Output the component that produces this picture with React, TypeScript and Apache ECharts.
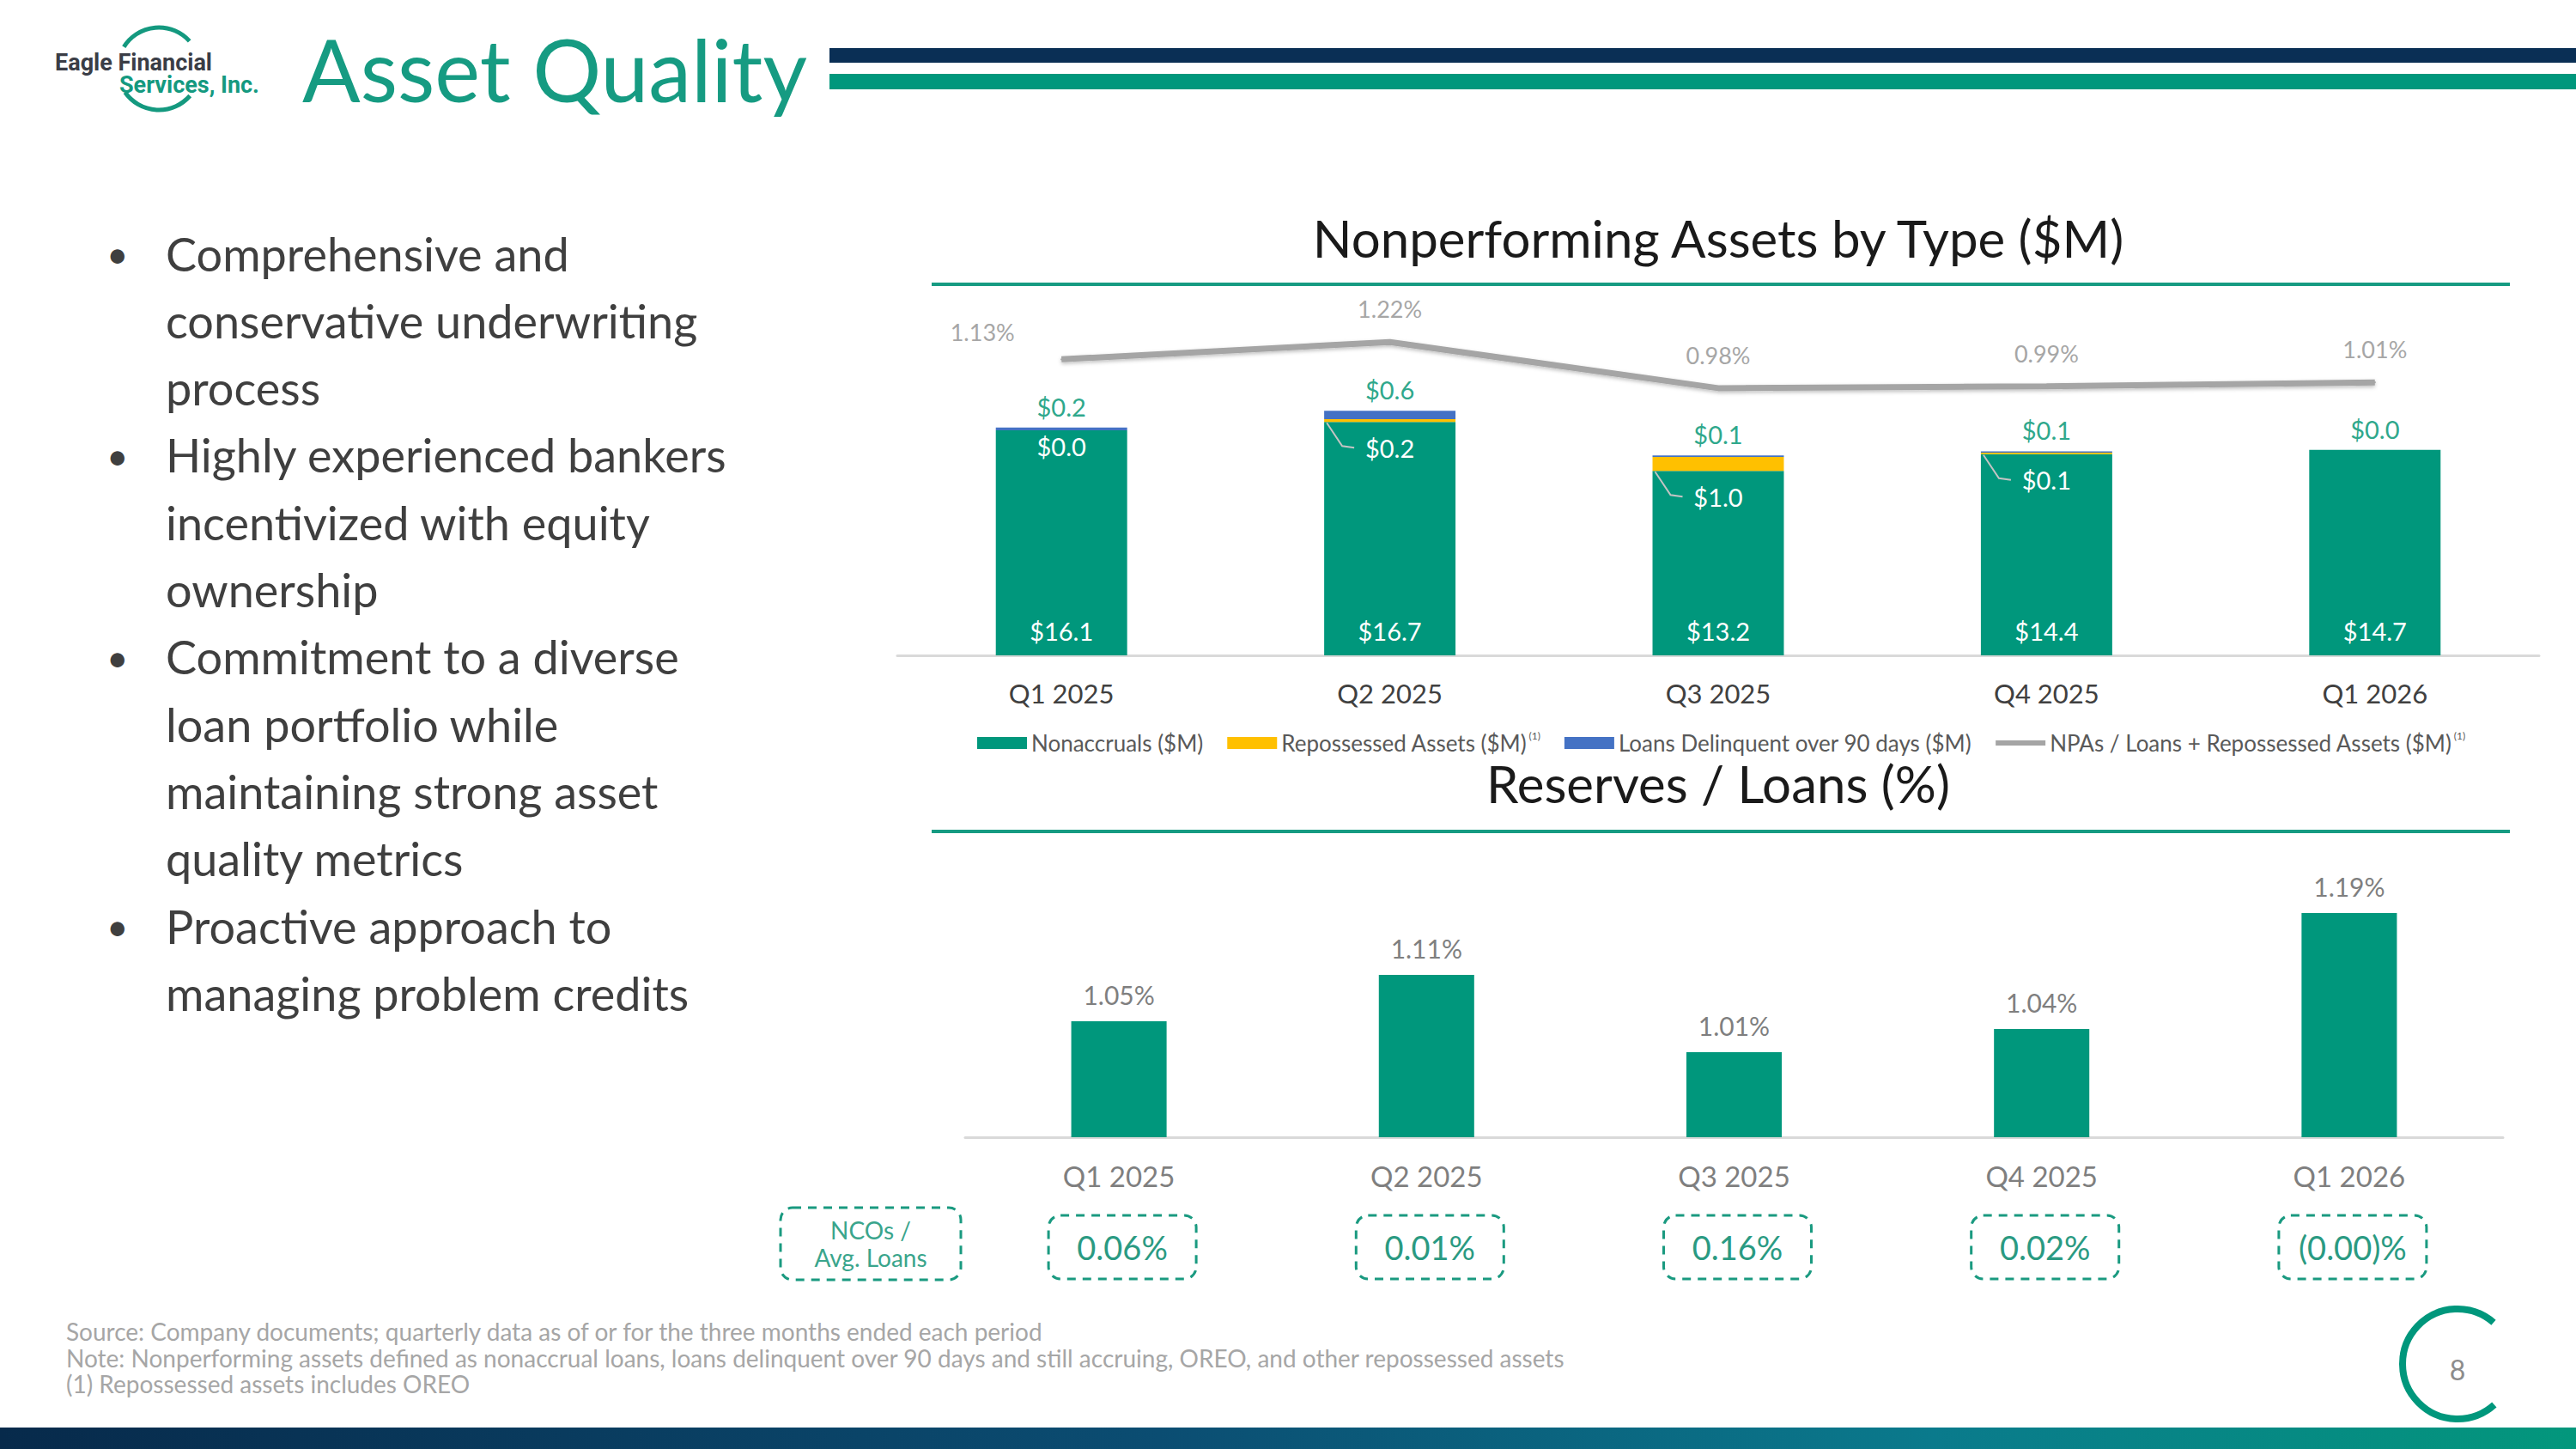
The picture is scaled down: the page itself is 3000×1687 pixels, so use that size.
import React, { useEffect, useRef } from "react";
import * as echarts from "echarts";

const categories = ["Q1 2025", "Q2 2025", "Q3 2025", "Q4 2025", "Q1 2026"];
const nonaccruals = [16.1, 16.7, 13.2, 14.4, 14.7];
const repossessed = [0.0, 0.2, 1.0, 0.1, 0.0];
const delinquent = [0.2, 0.6, 0.1, 0.1, 0.0];
const npaRatio = [1.13, 1.22, 0.98, 0.99, 1.01];
const repLabelMode = ["plain", "leader", "leader", "leader", "none"];
const reserveRatio = [1.05, 1.11, 1.01, 1.04, 1.19];
const ncoLabels = ["0.06%", "0.01%", "0.16%", "0.02%", "(0.00)%"];

const seriesNames = [
  "Nonaccruals ($M)",
  "Repossessed Assets ($M)",
  "Loans Delinquent over 90 days ($M)",
  "NPAs / Loans + Repossessed Assets ($M)",
];
const footnoted = ["Repossessed Assets ($M)", "NPAs / Loans + Repossessed Assets ($M)"];

const bullets = [
  ["Comprehensive and", "conservative underwriting", "process"],
  ["Highly experienced bankers", "incentivized with equity", "ownership"],
  ["Commitment to a diverse", "loan portfolio while", "maintaining strong asset", "quality metrics"],
  ["Proactive approach to", "managing problem credits"],
];

const footnotes = [
  "Source: Company documents; quarterly data as of or for the three months ended each period",
  "Note: Nonperforming assets defined as nonaccrual loans, loans delinquent over 90 days and still accruing, OREO, and other repossessed assets",
  "(1) Repossessed assets includes OREO",
];

const TEAL = "#00977c";
const TITLE_TEAL = "#169b82";
const YELLOW = "#ffc000";
const BLUE = "#4472c4";
const FONT = "Lato";
const BOTTOM_MIN = 0.9;
const deg = (d: number) => (d * Math.PI) / 180;

export default function App() {
  const ref = useRef<HTMLDivElement>(null);

  useEffect(() => {
    document.body.style.margin = "0";
    const chart = echarts.init(ref.current!, null, { renderer: "svg" });

    const graphic: any[] = [];
    // logo
    graphic.push(
      { type: "arc", shape: { cx: 185, cy: 80, r: 48, startAngle: deg(212), endAngle: deg(318), clockwise: true }, style: { stroke: "#14997f", lineWidth: 5, fill: null } },
      { type: "arc", shape: { cx: 185, cy: 80, r: 48, startAngle: deg(41), endAngle: deg(145), clockwise: true }, style: { stroke: "#14997f", lineWidth: 5, fill: null } },
      { type: "text", style: { text: "Eagle Financial", x: 64, y: 73, verticalAlign: "middle", font: "bold 27px Roboto", fill: "#3a3d46" } },
      { type: "text", style: { text: "Services, Inc.", x: 139, y: 99, verticalAlign: "middle", font: "bold 27px Roboto", fill: "#14997f" } },
      { type: "text", style: { text: "Asset Quality", x: 352, y: 80, verticalAlign: "middle", font: `100px ${FONT}`, fill: TITLE_TEAL } },
      { type: "rect", shape: { x: 966, y: 56, width: 2034, height: 17 }, style: { fill: "#0a2f55" } },
      { type: "rect", shape: { x: 966, y: 86, width: 2034, height: 18 }, style: { fill: TEAL } }
    );
    // chart titles
    graphic.push(
      { type: "text", style: { text: "Nonperforming Assets by Type ($M)", x: 2001, y: 277, align: "center", verticalAlign: "middle", font: `60px ${FONT}`, fill: "#1a1a1a" } },
      { type: "rect", shape: { x: 1085, y: 329, width: 1838, height: 4 }, style: { fill: TITLE_TEAL } },
      { type: "text", style: { text: "Reserves / Loans (%)", x: 2001, y: 912, align: "center", verticalAlign: "middle", font: `60px ${FONT}`, fill: "#1a1a1a" } },
      { type: "rect", shape: { x: 1085, y: 966, width: 1838, height: 4 }, style: { fill: TITLE_TEAL } }
    );
    // bullets
    let line = 0;
    bullets.forEach((b) => {
      b.forEach((t, j) => {
        const y = 295 + line * 78.3;
        if (j === 0) graphic.push({ type: "text", style: { text: "•", x: 124, y, verticalAlign: "middle", font: `44px ${FONT}`, fill: "#3f3f3f" } });
        graphic.push({ type: "text", style: { text: t, x: 193, y, verticalAlign: "middle", font: `54px ${FONT}`, fill: "#3f3f3f" } });
        line++;
      });
    });
    // NCO label box
    graphic.push(
      { type: "rect", shape: { x: 909, y: 1406, width: 210, height: 84, r: 14 }, style: { fill: "transparent", stroke: "#1a9a80", lineWidth: 3, lineDash: [10, 8] } },
      { type: "text", style: { text: "NCOs /\nAvg. Loans", x: 1014, y: 1448, align: "center", verticalAlign: "middle", font: `28px ${FONT}`, fill: "#3aa58c", lineHeight: 32 } }
    );
    // footnotes
    footnotes.forEach((t, i) => {
      graphic.push({ type: "text", style: { text: t, x: 77, y: 1550 + i * 30.5, verticalAlign: "middle", font: `28px ${FONT}`, fill: "#a6a6a6" } });
    });
    // page number
    graphic.push(
      { type: "arc", shape: { cx: 2862, cy: 1588, r: 64, startAngle: deg(48), endAngle: deg(311), clockwise: true }, style: { stroke: TEAL, lineWidth: 8, fill: null } },
      { type: "text", style: { text: "8", x: 2862, y: 1594, align: "center", verticalAlign: "middle", font: `32px ${FONT}`, fill: "#8c8c8c" } }
    );
    // bottom band
    graphic.push({
      type: "rect",
      shape: { x: 0, y: 1662, width: 3000, height: 25 },
      style: {
        fill: new echarts.graphic.LinearGradient(0, 0, 1, 0, [
          { offset: 0, color: "#072a4b" },
          { offset: 0.45, color: "#0b4d72" },
          { offset: 0.75, color: "#0a7a8c" },
          { offset: 1, color: "#03977c" },
        ]),
      },
    });

    const labelFmt = (p: any) => "$" + Number(p.value).toFixed(1);

    const option: any = {
      animation: false,
      textStyle: { fontFamily: FONT },
      graphic,
      legend: {
        data: seriesNames.map((n, i) =>
          i === 3 ? { name: n, icon: "path://M0,0H60V6H0Z" } : { name: n, icon: "rect" }
        ),
        left: 1133,
        top: 845,
        itemWidth: 58,
        itemHeight: 14,
        itemGap: 28,
        textStyle: {
          fontSize: 26,
          color: "#595959",
          rich: { sup: { fontSize: 12, color: "#595959", verticalAlign: "top", padding: [0, 0, 18, 2] } },
        },
        formatter: (n: string) => (footnoted.includes(n) ? `${n}{sup|(1)}` : n),
      },
      grid: [
        { left: 1045, width: 1912, top: 340, height: 423 },
        { left: 1124, width: 1791, top: 1009, height: 315 },
      ],
      xAxis: [
        {
          type: "category",
          gridIndex: 0,
          data: categories,
          axisLine: { lineStyle: { color: "#d9d9d9", width: 3 } },
          axisTick: { show: false },
          axisLabel: { color: "#404040", fontSize: 31, margin: 28 },
        },
        {
          type: "category",
          gridIndex: 1,
          data: categories,
          axisLine: { lineStyle: { color: "#d9d9d9", width: 3 } },
          axisTick: { show: false },
          axisLabel: { color: "#7f7f7f", fontSize: 33, margin: 28 },
        },
      ],
      yAxis: [
        { type: "value", gridIndex: 0, min: 0, max: 26, show: false, splitLine: { show: false } },
        { type: "value", gridIndex: 0, min: -0.41, max: 1.48, show: false, splitLine: { show: false } },
        { type: "value", gridIndex: 1, min: BOTTOM_MIN, max: 1.25, show: false, splitLine: { show: false } },
      ],
      series: [
        {
          name: seriesNames[0],
          type: "bar",
          stack: "npa",
          barWidth: "40%",
          xAxisIndex: 0,
          yAxisIndex: 0,
          data: nonaccruals,
          itemStyle: { color: TEAL },
          label: { show: true, position: "insideBottom", distance: 14, color: "#ffffff", fontSize: 29, formatter: labelFmt },
        },
        {
          name: seriesNames[1],
          type: "bar",
          stack: "npa",
          xAxisIndex: 0,
          yAxisIndex: 0,
          data: repossessed,
          itemStyle: { color: YELLOW },
        },
        {
          name: seriesNames[2],
          type: "bar",
          stack: "npa",
          xAxisIndex: 0,
          yAxisIndex: 0,
          data: delinquent,
          itemStyle: { color: BLUE },
          label: { show: true, position: "top", distance: 10, color: "#2fa88c", fontSize: 29, formatter: labelFmt },
        },
        {
          name: seriesNames[3],
          type: "line",
          xAxisIndex: 0,
          yAxisIndex: 1,
          data: npaRatio.map((v, i) => (i === 0 ? { value: v, label: { offset: [-92, 7] } } : v)),
          symbol: "circle",
          symbolSize: 2,
          showSymbol: true,
          lineStyle: { color: "#a5a5a5", width: 7, shadowBlur: 4, shadowColor: "rgba(0,0,0,0.25)", shadowOffsetY: 2 },
          itemStyle: { color: "#a5a5a5" },
          label: { show: true, position: "top", distance: 24, color: "#a6a6a6", fontSize: 27, formatter: (p: any) => Number(p.value).toFixed(2) + "%" },
          z: 5,
        },
        {
          name: "repLabels",
          type: "custom",
          xAxisIndex: 0,
          yAxisIndex: 0,
          silent: true,
          z: 6,
          data: categories.map((_, i) => [i, nonaccruals[i] + repossessed[i]]),
          renderItem: (params: any, api: any) => {
            const i = api.value(0);
            const mode = repLabelMode[i];
            if (mode === "none") return { type: "group", children: [] };
            const bw = api.size([1, 0])[0] * 0.4;
            const base = api.coord([i, nonaccruals[i]]);
            const cx = base[0];
            const yBottom = base[1];
            const yTop = api.coord([i, nonaccruals[i] + repossessed[i] + delinquent[i]])[1];
            const text = "$" + repossessed[i].toFixed(1);
            if (mode === "plain") {
              return { type: "text", style: { text, x: cx, y: yTop + 22, align: "center", verticalAlign: "middle", fill: "#ffffff", font: `29px ${FONT}` } };
            }
            const x0 = cx - bw / 2 + 3;
            const ly = yBottom + 30;
            return {
              type: "group",
              children: [
                { type: "polyline", shape: { points: [[x0, yBottom + 1], [x0 + 18, ly - 2], [x0 + 32, ly]] }, style: { stroke: "#c4c4c4", lineWidth: 2, fill: null } },
                { type: "text", style: { text, x: cx, y: ly, align: "center", verticalAlign: "middle", fill: "#ffffff", font: `29px ${FONT}` } },
              ],
            };
          },
        },
        {
          name: "Reserves / Loans (%)",
          type: "bar",
          xAxisIndex: 1,
          yAxisIndex: 2,
          barWidth: "31%",
          data: reserveRatio,
          itemStyle: { color: TEAL },
          label: { show: true, position: "top", distance: 16, color: "#7f7f7f", fontSize: 30, formatter: (p: any) => Number(p.value).toFixed(2) + "%" },
        },
        {
          name: "ncoBoxes",
          type: "custom",
          xAxisIndex: 1,
          yAxisIndex: 2,
          silent: true,
          data: categories.map((_, i) => [i, BOTTOM_MIN]),
          renderItem: (params: any, api: any) => {
            const i = api.value(0);
            const p = api.coord([i, BOTTOM_MIN]);
            const cx = p[0] + 4;
            const cy = p[1] + 128;
            return {
              type: "group",
              children: [
                { type: "rect", shape: { x: cx - 86, y: cy - 37, width: 172, height: 74, r: 14 }, style: { fill: "transparent", stroke: "#1a9a80", lineWidth: 3, lineDash: [10, 8] } },
                { type: "text", style: { text: ncoLabels[i], x: cx, y: cy, align: "center", verticalAlign: "middle", fill: "#2a9a82", font: `38px ${FONT}` } },
              ],
            };
          },
        },
      ],
    };

    chart.setOption(option);
    return () => chart.dispose();
  }, []);

  return <div ref={ref} style={{ width: 3000, height: 1687 }} />;
}
